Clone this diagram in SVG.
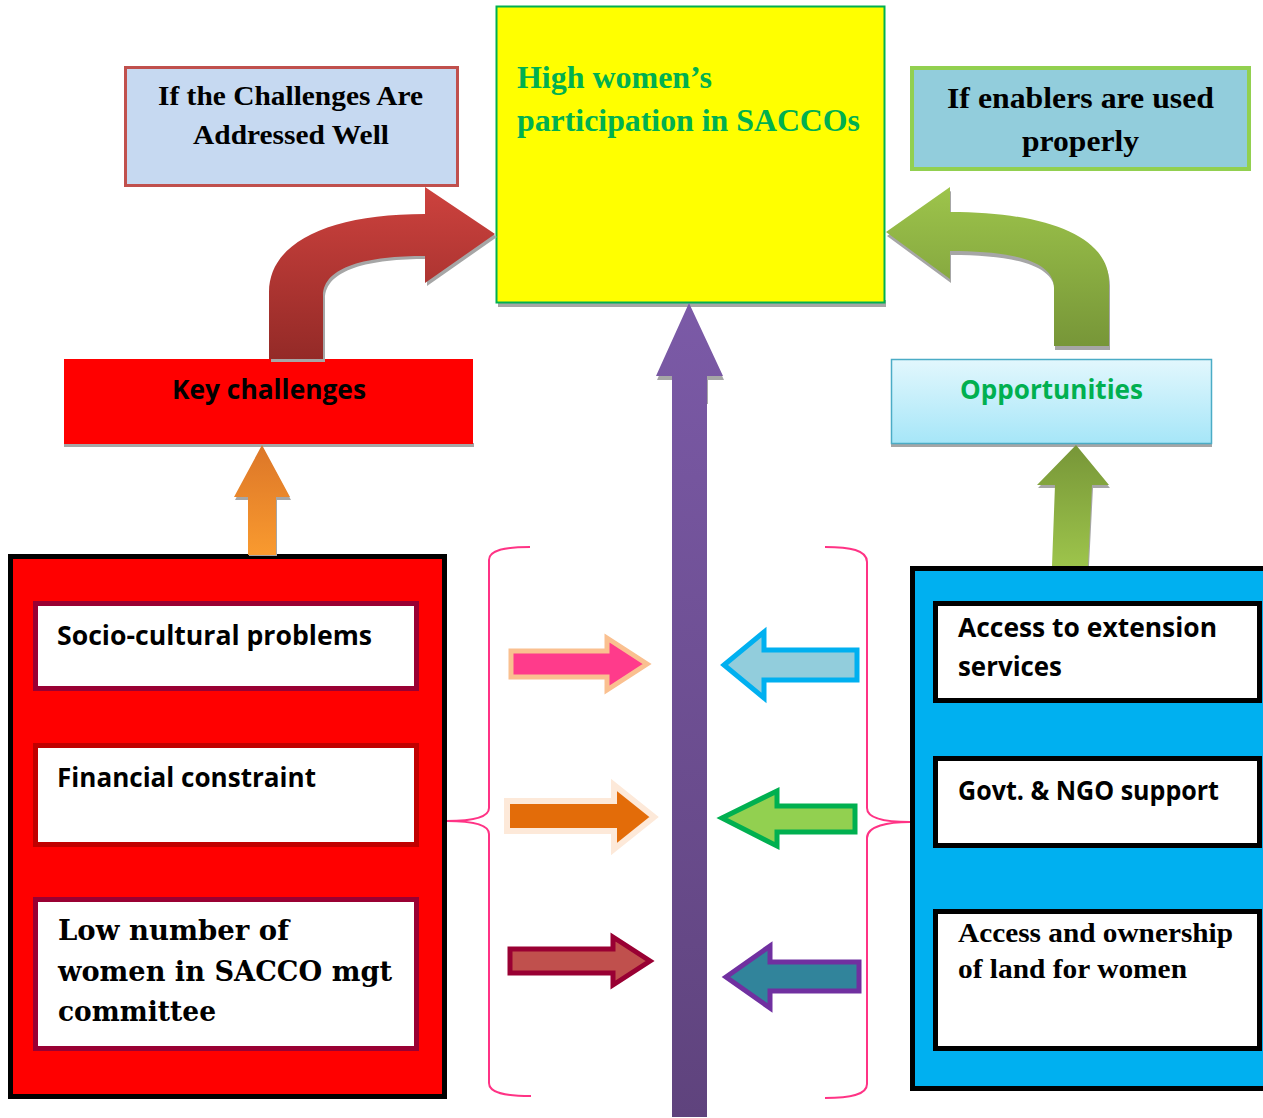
<svg xmlns="http://www.w3.org/2000/svg" width="1263" height="1118" viewBox="0 0 1263 1118">
<defs>
<linearGradient id="gRed" x1="0" y1="0" x2="0" y2="1"><stop offset="0" stop-color="#cd423e"/><stop offset="1" stop-color="#942a27"/></linearGradient>
<linearGradient id="gGreenDown" x1="0" y1="0" x2="0" y2="1"><stop offset="0" stop-color="#9dc44b"/><stop offset="1" stop-color="#779638"/></linearGradient>
<linearGradient id="gGreenUp" x1="0" y1="0" x2="0" y2="1"><stop offset="0" stop-color="#779638"/><stop offset="1" stop-color="#9dc44b"/></linearGradient>
<linearGradient id="gOrange" x1="0" y1="0" x2="0" y2="1"><stop offset="0" stop-color="#dc7628"/><stop offset="1" stop-color="#f99a2f"/></linearGradient>
<linearGradient id="gPurple" x1="0" y1="0" x2="0" y2="1"><stop offset="0" stop-color="#7b5aa7"/><stop offset="1" stop-color="#5f437d"/></linearGradient>
<linearGradient id="gOpp" x1="0" y1="0" x2="0" y2="1"><stop offset="0" stop-color="#e2f7fd"/><stop offset="1" stop-color="#a6e6f8"/></linearGradient>
</defs>
<style>
.sans{font-family:"Open Sans",Lato,"Liberation Sans",sans-serif;font-weight:bold;font-size:26px;fill:#000}
.serif{font-family:"Liberation Serif","Times New Roman",serif;font-weight:bold;fill:#000}
.school{font-family:"DejaVu Serif",serif;font-weight:bold;font-size:27px;fill:#000}
.shadow{fill:#a6a6a6}
.brace{fill:none;stroke:#ff3385;stroke-width:2}
.inbox{fill:#fff;stroke-width:5}
</style>

<g id="goal">
<rect class="shadow" x="498" y="300" width="388" height="7"/>
<rect x="496.5" y="6.5" width="388" height="296" fill="#ffff00" stroke="#00b050" stroke-width="2"/>
<text x="517" y="88" class="serif" font-size="31" style="fill:#00b050" textLength="195" lengthAdjust="spacingAndGlyphs">High women’s</text>
<text x="517" y="131" class="serif" font-size="31" style="fill:#00b050" textLength="343" lengthAdjust="spacingAndGlyphs">participation in SACCOs</text>
</g>

<g id="if-challenges">
<rect x="125.5" y="67.5" width="332" height="118" fill="#c6d9f1" stroke="#c0504d" stroke-width="3"/>
<text x="158" y="105" class="serif" font-size="28" textLength="265" lengthAdjust="spacingAndGlyphs">If the Challenges Are</text>
<text x="193" y="144" class="serif" font-size="28" textLength="196" lengthAdjust="spacingAndGlyphs">Addressed Well</text>
</g>

<g id="if-enablers">
<rect x="912" y="68" width="337" height="101" fill="#92cddc" stroke="#92d050" stroke-width="4"/>
<text x="947" y="108" class="serif" font-size="30" textLength="267" lengthAdjust="spacingAndGlyphs">If enablers are used</text>
<text x="1022" y="151" class="serif" font-size="30" textLength="117" lengthAdjust="spacingAndGlyphs">properly</text>
</g>

<g id="key-challenges">
<rect class="shadow" x="64" y="443" width="410" height="4"/>
<rect x="64" y="359" width="409" height="85" fill="#ff0000"/>
<text x="172" y="399" class="sans" textLength="194" lengthAdjust="spacingAndGlyphs">Key challenges</text>
</g>

<g id="opportunities">
<rect class="shadow" x="891" y="443" width="321" height="4"/>
<rect x="891.5" y="359.5" width="320" height="84" fill="url(#gOpp)" stroke="#4bacc6" stroke-width="1.5"/>
<text x="960" y="399" class="sans" style="fill:#00b050" textLength="183" lengthAdjust="spacingAndGlyphs">Opportunities</text>
</g>

<g id="challenges-group">
<rect x="10.5" y="556.5" width="434" height="540" fill="#ff0000" stroke="#000" stroke-width="5"/>
<rect class="inbox" x="35.5" y="603.5" width="381" height="85" stroke="#990033"/>
<text x="57" y="645" class="sans" textLength="315" lengthAdjust="spacingAndGlyphs">Socio-cultural problems</text>
<rect class="inbox" x="35.5" y="745.5" width="381" height="99" stroke="#c00000"/>
<text x="57" y="787" class="sans" textLength="259" lengthAdjust="spacingAndGlyphs">Financial constraint</text>
<rect class="inbox" x="35.5" y="899.5" width="381" height="149" stroke="#990033"/>
<text x="58" y="940" class="school" textLength="231" lengthAdjust="spacingAndGlyphs">Low number of</text>
<text x="58" y="981" class="school" textLength="334" lengthAdjust="spacingAndGlyphs">women in SACCO mgt</text>
<text x="58" y="1021" class="school" textLength="158" lengthAdjust="spacingAndGlyphs">committee</text>
</g>

<g id="opportunities-group">
<rect x="912.5" y="568.5" width="360" height="520" fill="#00b0f0" stroke="#000" stroke-width="5"/>
<rect class="inbox" x="935.5" y="603.5" width="324" height="97" stroke="#000"/>
<text x="958" y="637" class="sans" textLength="259" lengthAdjust="spacingAndGlyphs">Access to extension</text>
<text x="958" y="676" class="sans" textLength="104" lengthAdjust="spacingAndGlyphs">services</text>
<rect class="inbox" x="935.5" y="758.5" width="324" height="87" stroke="#000"/>
<text x="958" y="800" class="sans" textLength="261" lengthAdjust="spacingAndGlyphs">Govt. &amp; NGO support</text>
<rect class="inbox" x="935.5" y="911.5" width="324" height="137" stroke="#000"/>
<text x="958" y="942" class="serif" font-size="28" textLength="275" lengthAdjust="spacingAndGlyphs">Access and ownership</text>
<text x="958" y="978" class="serif" font-size="28" textLength="229" lengthAdjust="spacingAndGlyphs">of land for women</text>
</g>

<g id="connectors">
<path class="shadow" transform="translate(2,3)" d="M269,359 L269,292 C269,242 330,214 425,214 L425,187 L495,234 L425,283 L425,256 C368,256 323,266 323,296 L323,359 Z"/>
<path fill="url(#gRed)" d="M269,359 L269,292 C269,242 330,214 425,214 L425,187 L495,234 L425,283 L425,256 C368,256 323,266 323,296 L323,359 Z"/>
<path class="shadow" transform="translate(1,4)" d="M1109,346 L1109,282 C1109,238 1050,212 950,212 L950,187 L886,232 L950,279 L950,251 C1010,251 1054,260 1054,288 L1054,346 Z"/>
<path fill="url(#gGreenDown)" d="M1109,346 L1109,282 C1109,238 1050,212 950,212 L950,187 L886,232 L950,279 L950,251 C1010,251 1054,260 1054,288 L1054,346 Z"/>
<path class="shadow" transform="translate(1,3)" d="M234,497 L262,445 L290,497 L276,497 L276,553 L248,553 L248,497 Z"/>
<path fill="url(#gOrange)" d="M234,497 L262,445 L290,497 L276,497 L276,555 L248,555 L248,497 Z"/>
<path class="shadow" transform="translate(1,3)" d="M1037,485 L1076,445 L1109,485 L1092,485 L1088,563 L1052,563 L1055,485 Z"/>
<path fill="url(#gGreenUp)" d="M1037,485 L1076,445 L1109,485 L1092,485 L1088,566 L1052,566 L1055,485 Z"/>
<path class="shadow" transform="translate(1,4)" d="M656,376 L689,303 L723,376 L707,376 L707,400 L672,400 L672,376 Z"/>
<path fill="url(#gPurple)" d="M656,376 L689,303 L723,376 L707,376 L707,1117 L672,1117 L672,376 Z"/>
<path class="brace" d="M530,547 C505,547 489,550 489,560 L489,808 C489,818 470,821 447,821 C470,821 489,824 489,834 L489,1083 C489,1093 505,1096 531,1096"/>
<path class="brace" d="M825,547 C850,547 867,550 867,562 L867,808 C867,819 888,822 910,822 C888,822 867,826 867,838 L867,1084 C867,1095 850,1098 825,1098"/>
<polygon points="511,651 607,651 607,638 647,664 607,690 607,677 511,677" fill="#ff3b8b" stroke="#fac090" stroke-width="5"/>
<polygon points="507,801 614,801 614,785 654,817 614,849 614,831 507,831" fill="#e36c09" stroke="#fde9d9" stroke-width="6"/>
<polygon points="510,949 613,949 613,937 650,961 613,985 613,973 510,973" fill="#c0504d" stroke="#990033" stroke-width="5"/>
<polygon points="724,665 764,632 764,650 857,650 857,680 764,680 764,698" fill="#92cddc" stroke="#00b0f0" stroke-width="5"/>
<polygon points="722,818 777,791 777,806 855,806 855,832 777,832 777,846" fill="#92d050" stroke="#00b050" stroke-width="5"/>
<polygon points="726,977 770,946 770,962 859,962 859,991 770,991 770,1008" fill="#31849b" stroke="#7030a0" stroke-width="5"/>
</g>
</svg>
